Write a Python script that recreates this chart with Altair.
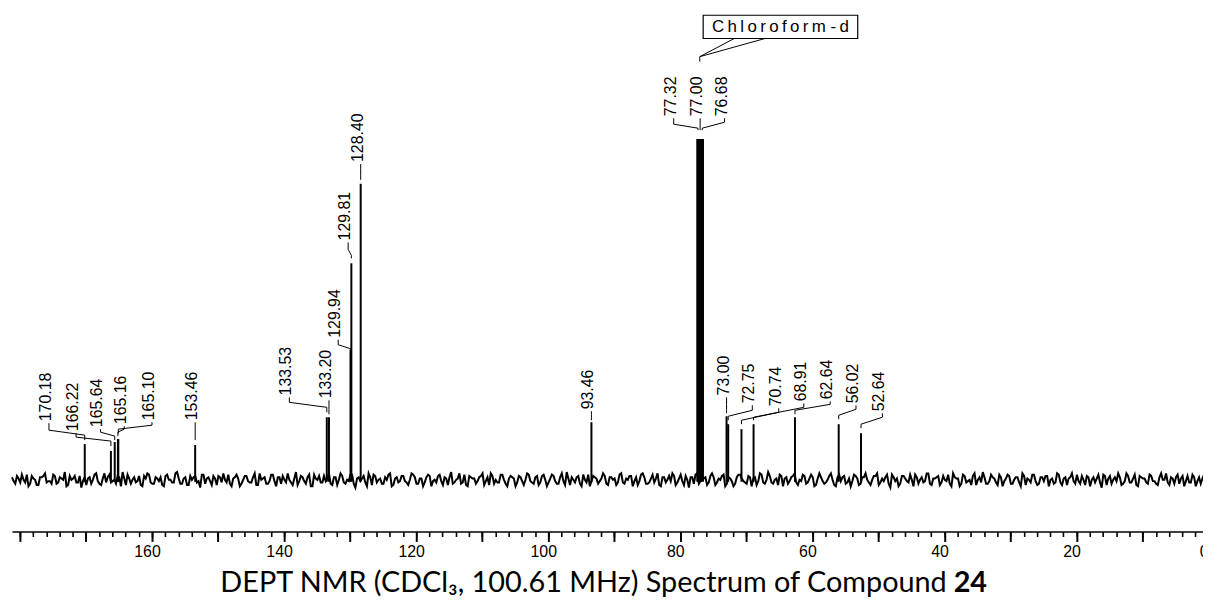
import altair as alt
import pandas as pd

# ---------------- data ----------------
peak_labels = ["170.18", "166.22", "165.64", "165.16", "165.10", "153.46",
               "133.53", "133.20", "129.94", "129.81", "128.40", "93.46",
               "77.32", "77.00", "76.68",
               "73.00", "72.75", "70.74", "68.91", "62.64", "56.02", "52.64"]
peak_ppm = [170.18, 166.22, 165.64, 165.16, 165.10, 153.46,
            133.53, 133.20, 129.94, 129.81, 128.40, 93.46,
            77.32, 77.00, 76.68,
            73.00, 72.75, 70.74, 68.91, 62.64, 56.02, 52.64]
peak_height = [36, 29, 38, 41, 41, 35,
               63, 63, 131, 218, 298, 58,
               343, 343, 343,
               64, 56, 51, 56, 63, 56, 47]
solvent = [False] * 12 + [True] * 3 + [False] * 7

# label anchor (ppm) and leader levels (intensity units)
label_ppm = [175.6, 171.5, 167.8, 164.2, 160.0, 153.46,
             139.2, 133.2, 131.8, 130.3, 128.4, 93.46,
             81.0, 77.0, 73.3,
             73.0, 69.1, 65.1, 61.3, 57.3, 53.4, 49.4]
lead_b = [57, 47, 51, 54, 58, 58, 83, 80, 141, 239, 318, 69, 364, 364, 364, 83, 75, 72, 77, 79, 75, 67]
lead_s = [50, 43, 48, 51, 55, 51, 78, 75, 136, 232, 313, 66, 358, 359, 360, 76, 70, 68, 73, 76, 71, 63]
lead_k = [45, 39, 44, 48, 51, 46, 73, 71, 132, 226, 307, 63, 354, 354, 354, 71, 64, 60, 63, 70, 65, 56]
lead_e = [40, 34, 40, 44, 47, 40, 68, 66, 131, 223, 302, 60, 352, 352, 352, 67, 60, 56, 60, 66, 61, 52]

# baseline noise (hand-estimated), two interleaved sample sets every 0.5 ppm
noise_unit = 1.3
noise_a_start = 181.2
noise_b_start = 180.95
noise_step = 0.5
noise_a = [2, -3, 1, 4, -2, -5, 3, 0, -4, 2, 5, -1, -3, 3, -2, 1, 6, -4, 0, 3,
           -2, -6, 2, 1, -3, 4, -1, -4, 5, 2, -2, 0, 3, -5, 1, 4, -3, 2, -1, -4,
           3, 5, -2, -3, 1, 2, -5, 4, 0, -2, 6, -3, 1, -4, 3, 2, -2, -6, 4, 1,
           -1, 3, -4, 2, 5, -2, -3, 1, 4, -5, 0, 3, -2, 2, -4, 5, 1, -3, -1, 4,
           -5, 2, 3, -2, 0, -4, 6, -1, 2, -3, 4, -5, 1, 3, -2, -1, 5, -4, 2, 0,
           3, -3, -1, 4, -6, 2, 1, -2, 5, -4, 3, 0, -3, 2, 4, -5, 1, -2, 3, -1,
           -4, 5, 2, -3, 1, -2, 4, -5, 0, 3, -1, 2, -4, 6, -2, 1, -3, 4, -5, 2,
           1, -1, 3, -4, 2, 5, -3, -2, 4, 0, -5, 3, 1, -2, 2, -4, 5, -1, -3, 3,
           -2, 4, -5, 1, 3, -3, 2, -1, 6, -4, 0, 2, -3, 4, -2, -5, 3, 1, -1, 5,
           -3, 2, 0, -4, 4, -2, 1, 3, -5, 2, -1, 5, -3, -2, 4, 1, -4, 2, -2, 3,
           5, -4, 1, -1, 3, -6, 2, 4, -3, 0, 2, -2, 5, -4, 1, 3, -5, 2, -1, -3,
           4, 1, -2, 3, -5, 2, -1, 4, -3, 6, -2, 0, -4, 3, 1, -3, 2, 5, -4, -1,
           3, -2, 4, -5, 1, 2, -3, 0, 5, -4, 2, -1, 3, -2, -5, 4, 1, -3, 2, 0,
           -4, 3, 5, -2, -1, 4, -6, 2, 1, -3, 3, -1, 4, -5, 2, 0, -2, 5, -3, 1,
           2, -4, 3, -1, -3, 5, 1, -5, 4, -2, 0, 3, -4, 2, 6, -3, -1, 2, -2, 4,
           -5, 1, 3, -3, 2, -2, 5, -4, 0, 4, -1, -3, 2, 3, -5, 1, -2, 4, -4, 2,
           1, 5, -3, -1, 3, -4, 2, 0, -2, 4, -6, 3, 1, -3, 2, 5, -4, -1, 3, -2,
           4, -5, 2, 1, -3, 3, -1, -4, 5, 0, -2, 2, -3, 4, 1, -5, 3, -2, 2, -1,
           -3, 4, 0]
noise_b = [-1, 3, -2, 0, 4, -3, 1, -4, 2, 3, -2, -1, 4, -3, 2, 0, -5, 3, 1, -2,
           3, -1, -4, 2, 0, 5, -3, 1, -2, 4, -1, -3, 2, 6, -4, 1, 0, -2, 3, -5,
           1, 4, -3, 2, -1, -4, 3, 0, -2, 5, 1, -3, 2, -4, 0, 3, -1, 4, -3, 2,
           -4, 1, 3, -2, 0, 4, -5, 2, 1, -3, 3, -1, -2, 5, -4, 0, 2, -3, 4, -1,
           2, -3, 0, 5, -2, 1, -4, 3, -1, 2, -5, 4, 0, -2, 3, 1, -3, 2, -4, 5,
           -2, 0, 4, -3, 1, -1, 3, -5, 2, 4, -2, 1, -3, 0, 5, -4, 2, -1, 3, -2,
           0, 4, -3, 1, -5, 2, 3, -1, -2, 4, -4, 1, 2, -3, 0, 5, -2, -4, 3, 1,
           -3, 2, 5, -1, -4, 3, 0, -2, 4, -3, 1, 2, -5, 3, -1, 0, 4, -2, 2, -4,
           3, 0, -2, 4, -1, -3, 5, -4, 1, 2, -2, 3, -5, 0, 4, -1, 2, -3, 1, 3,
           -4, 2, 1, -2, 5, -3, 0, 3, -1, -4, 4, 2, -3, 1, -2, 5, -5, 2, 0, -1,
           3, -2, 4, -4, 0, 2, -3, 5, -1, 1, -4, 3, 2, -2, 0, 4, -3, 1, -5, 2,
           4, -1, -3, 2, 1, -4, 5, -2, 0, 3, -3, 1, 4, -5, 2, -1, 3, -2, 0, 4,
           -3, 1, 2, -4, 5, -1, -2, 3, 0, -5, 4, 2, -3, 1, -1, 3, -4, 2, 5, -2,
           0, 3, -4, 1, 2, -3, 4, -1, -5, 3, 1, -2, 0, 4, -3, 2, -1, 5, -4, 1,
           3, -2, 0, 4, -5, 2, 1, -3, 3, -1, -4, 5, 0, -2, 2, -3, 4, 1, -4, 2,
           -1, 4, -3, 0, 2, -5, 3, 1, -2, 4, -4, 2, -1, 3, 0, -3, 5, -2, 1, -4,
           2, -1, 4, -3, 0, 3, -5, 2, 1, -2, 4, -4, 3, 0, -1, 2, -3, 5, -2, 1,
           -4, 3, 1, -2, 4, -1, -3, 2, 0, 5, -4, 1, 2, -3, 3, -1, -2, 4, -5, 2,
           1, -3, 2]

# solvent call-out
solvent_text = "C\u2009h\u2009l\u2009o\u2009r\u2009o\u2009f\u2009o\u2009r\u2009m -\u2009d"
box_ppm = [76.54, 53.14]
box_int = [444.3, 467.7]
callout_ppm = [71.83, 77.05, 77.05, 67.17, 77.05]
callout_int = [444.3, 426, 421, 444.3, 426]
callout_id = ["a", "a", "a", "b", "b"]

title_main = "DEPT NMR (CDCl\u2083, 100.61 MHz) Spectrum of Compound"
title_bold = "24"

axis_minor = list(range(0, 182, 2))
axis_major = list(range(0, 181, 10))

# ---------------- tables ----------------
noise_df = pd.DataFrame({
    "ppm": [noise_a_start - noise_step * i for i in range(len(noise_a))]
           + [noise_b_start - noise_step * i for i in range(len(noise_b))],
    "I": [v * noise_unit for v in noise_a] + [v * noise_unit for v in noise_b],
}).sort_values("ppm", ascending=False).reset_index(drop=True)
noise_df["o"] = range(len(noise_df))

peaks_df = pd.DataFrame({"ppm": peak_ppm, "h": peak_height, "solvent": solvent})
labels_df = pd.DataFrame({"ppm": [p + 0.45 for p in label_ppm],
                          "I": [b + 2 for b in lead_b], "t": peak_labels})
lead_rows = []
for i, lab in enumerate(peak_labels):
    pts = [(label_ppm[i], lead_b[i]), (label_ppm[i], lead_s[i]),
           (peak_ppm[i], lead_k[i]), (peak_ppm[i], lead_e[i])]
    for o, (x, y) in enumerate(pts):
        lead_rows.append({"label": lab, "o": o, "ppm": x, "I": y})
lead_df = pd.DataFrame(lead_rows)
box_df = pd.DataFrame({"x1": [box_ppm[0]], "x2": [box_ppm[1]],
                       "y1": [box_int[0]], "y2": [box_int[1]],
                       "xc": [(box_ppm[0] + box_ppm[1]) / 2],
                       "yc": [(box_int[0] + box_int[1]) / 2], "t": [solvent_text]})
call_df = pd.DataFrame({"ppm": callout_ppm, "I": callout_int, "id": callout_id,
                        "o": list(range(len(callout_ppm)))})

x_scale = alt.Scale(domain=[181.2, 0], range=[0, 1204.7], nice=False, zero=False)
y_scale = alt.Scale(domain=[-52, 473], nice=False, zero=False)

def X(field, axis=None):
    return alt.X(field, type="quantitative", scale=x_scale, axis=axis)

def Y(field):
    return alt.Y(field, type="quantitative", scale=y_scale, axis=None)

main_axis = alt.Axis(orient="bottom", values=axis_minor, tickSize=5, tickWidth=1.6,
                     tickColor="black", domainColor="black", domainWidth=1.6,
                     labelExpr="datum.value % 20 === 0 && datum.value < 170 ? datum.label : ''",
                     labelFont="Liberation Sans", labelFontSize=16, labelColor="black",
                     labelPadding=7.5, labelOffset=-5, labelOverlap=False, labelFlush=False,
                     grid=False, title=None)
major_axis = alt.Axis(orient="bottom", values=axis_major, tickSize=10, tickWidth=2,
                      tickColor="black", labels=False, domain=False, grid=False, title=None)

noise_layer = alt.Chart(noise_df).mark_line(color="black", strokeWidth=2.0).encode(
    x=X("ppm", main_axis), y=Y("I"), order="o:Q")
major_layer = alt.Chart(peaks_df).mark_point(opacity=0).encode(
    x=X("ppm", major_axis), y=Y("h"))
peak_layer = alt.Chart(peaks_df).transform_filter("!datum.solvent").mark_rule(
    color="black", strokeWidth=2).encode(x=X("ppm"), y=Y("h"), y2=alt.datum(-2))
solv_layer = alt.Chart(peaks_df).transform_filter("datum.solvent").mark_rule(
    color="black", strokeWidth=3.5).encode(x=X("ppm"), y=Y("h"), y2=alt.datum(-2))
lead_layer = alt.Chart(lead_df).mark_line(color="black", strokeWidth=1).encode(
    x=X("ppm"), y=Y("I"), detail="label:N", order="o:Q")
label_layer = alt.Chart(labels_df).mark_text(
    angle=270, align="left", baseline="middle", font="Liberation Sans",
    fontSize=16, color="black").encode(x=X("ppm"), y=Y("I"), text="t:N")
box_layer = alt.Chart(box_df).mark_rect(fill="white", stroke="black", strokeWidth=1.2).encode(
    x=X("x1"), x2="x2", y=Y("y1"), y2="y2")
box_text = alt.Chart(box_df).mark_text(
    align="center", baseline="middle", font="Liberation Sans", fontSize=17,
    color="black").encode(x=X("xc"), y=Y("yc"), text="t:N")
call_layer = alt.Chart(call_df).mark_line(color="black", strokeWidth=1).encode(
    x=X("ppm"), y=Y("I"), detail="id:N", order="o:Q")
title_layer = alt.Chart(pd.DataFrame({"t": [title_main]})).mark_text(
    align="right", baseline="alphabetic", font="Lato", fontSize=29, color="black").encode(
    x=alt.value(941), y=alt.value(586), text="t:N")
title_bold_layer = alt.Chart(pd.DataFrame({"t": [title_bold]})).mark_text(
    align="left", baseline="alphabetic", font="Lato", fontSize=29, fontWeight="bold",
    color="black").encode(x=alt.value(948), y=alt.value(586), text="t:N")

chart = alt.layer(
    noise_layer, major_layer, peak_layer, solv_layer, lead_layer, label_layer,
    box_layer, box_text, call_layer, title_layer, title_bold_layer
).resolve_axis(x="independent").properties(
    width=1199, height=525,
    padding={"left": 4, "top": 0, "right": 0, "bottom": 69},
    autosize=alt.AutoSizeParams(type="none"),
    background="white",
).configure_view(stroke=None)

chart.save("out.html", embed_options={"renderer": "svg", "actions": False})
